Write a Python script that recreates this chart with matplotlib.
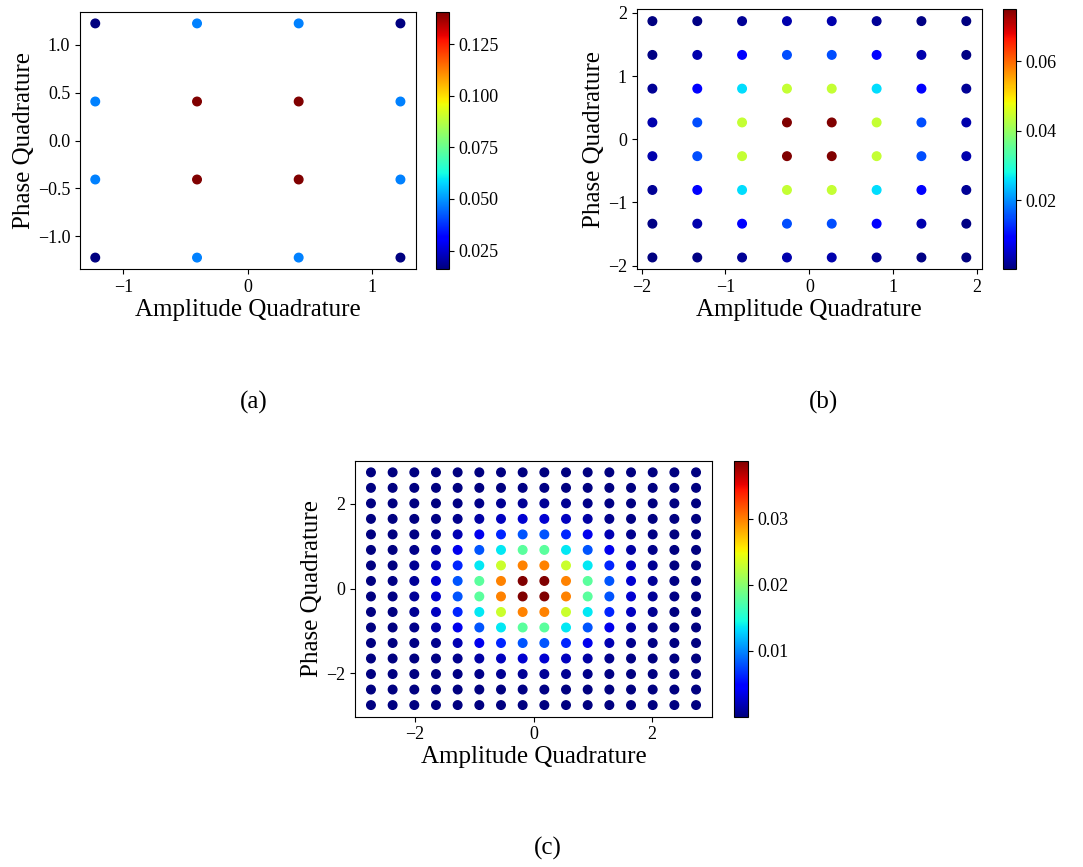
import numpy as np
import matplotlib
matplotlib.use('Agg')
from matplotlib import pyplot as plt

plt.rcParams['font.family'] = ['Liberation Serif', 'DejaVu Serif']
plt.rcParams['mathtext.fontset'] = 'stix'

# constellation levels (same on both quadratures)
levels_a = [-1.225, -0.408, 0.408, 1.225]
levels_b = [-1.871, -1.336, -0.802, -0.267, 0.267, 0.802, 1.336, 1.871]
levels_c = [-2.745, -2.379, -2.013, -1.647, -1.281, -0.915, -0.549, -0.183,
            0.183, 0.549, 0.915, 1.281, 1.647, 2.013, 2.379, 2.745]

# symbol probabilities, rows = phase level, cols = amplitude level
prob_a = [
    [0.0159, 0.0473, 0.0473, 0.0159],
    [0.0473, 0.1407, 0.1407, 0.0473],
    [0.0473, 0.1407, 0.1407, 0.0473],
    [0.0159, 0.0473, 0.0473, 0.0159],
]

prob_b = [
    [0.00013, 0.00063, 0.0018, 0.0031, 0.0031, 0.0018, 0.00063, 0.00013],
    [0.00063, 0.0031, 0.0089, 0.0152, 0.0152, 0.0089, 0.0031, 0.00063],
    [0.0018, 0.0089, 0.0258, 0.0440, 0.0440, 0.0258, 0.0089, 0.0018],
    [0.0031, 0.0152, 0.0440, 0.0749, 0.0749, 0.0440, 0.0152, 0.0031],
    [0.0031, 0.0152, 0.0440, 0.0749, 0.0749, 0.0440, 0.0152, 0.0031],
    [0.0018, 0.0089, 0.0258, 0.0440, 0.0440, 0.0258, 0.0089, 0.0018],
    [0.00063, 0.0031, 0.0089, 0.0152, 0.0152, 0.0089, 0.0031, 0.00063],
    [0.00013, 0.00063, 0.0018, 0.0031, 0.0031, 0.0018, 0.00063, 0.00013],
]

# one quadrant of the 256 points (centre outwards), the rest is mirrored
quad_c = [
    [0.03877, 0.02989, 0.01780, 0.00815, 0.00287, 0.00079, 0.00017, 0.00003],
    [0.02989, 0.02304, 0.01372, 0.00628, 0.00222, 0.00061, 0.00013, 0.00002],
    [0.01780, 0.01372, 0.00817, 0.00374, 0.00132, 0.00036, 0.00008, 0.00001],
    [0.00815, 0.00628, 0.00374, 0.00171, 0.00060, 0.00017, 0.00004, 0.00001],
    [0.00287, 0.00222, 0.00132, 0.00060, 0.00021, 0.00006, 0.00001, 0.0],
    [0.00079, 0.00061, 0.00036, 0.00017, 0.00006, 0.00002, 0.0, 0.0],
    [0.00017, 0.00013, 0.00008, 0.00004, 0.00001, 0.0, 0.0, 0.0],
    [0.00003, 0.00002, 0.00001, 0.00001, 0.0, 0.0, 0.0, 0.0],
]
q = np.array(quad_c)
top = np.hstack([q[:, ::-1], q])
prob_c = np.vstack([top[::-1], top])

cb_ticks_a = [0.025, 0.050, 0.075, 0.100, 0.125]
cb_ticks_b = [0.02, 0.04, 0.06]
cb_ticks_c = [0.01, 0.02, 0.03]

W, H = 1083, 867
fig = plt.figure(figsize=(W/100, H/100), dpi=100)

def box(x0, y0, x1, y1):
    return [x0/W, 1 - y1/H, (x1-x0)/W, (y1-y0)/H]

def panel(ax_box, cb_box, levels, prob, xt, yt, cbt, cbfmt, letter, lpos):
    ax = fig.add_axes(box(*ax_box))
    cax = fig.add_axes(box(*cb_box))
    X, Y = np.meshgrid(levels, levels)
    sc = ax.scatter(X.ravel(), Y.ravel(), c=np.asarray(prob).ravel(),
                    cmap='jet', s=38)
    ax.set_xticks(xt)
    ax.set_yticks(yt)
    ax.tick_params(labelsize=13)
    ax.set_xlabel('Amplitude Quadrature', fontsize=18, labelpad=2)
    ax.set_ylabel('Phase Quadrature', fontsize=18, labelpad=2)
    cb = fig.colorbar(sc, cax=cax, ticks=cbt, format=cbfmt)
    cb.ax.tick_params(labelsize=13)
    fig.text(lpos[0]/W, 1 - lpos[1]/H, letter, fontsize=18,
             ha='center', va='center')
    return ax

panel((80, 11.7, 415.7, 269.3), (436, 11.7, 448.7, 269.3), levels_a, prob_a,
      [-1, 0, 1], [-1.0, -0.5, 0.0, 0.5, 1.0], cb_ticks_a, '%.3f',
      '(a)', (254, 402))
panel((636.7, 9.3, 982, 269.3), (1003.3, 9.3, 1016, 269.3), levels_b, prob_b,
      [-2, -1, 0, 1, 2], [-2, -1, 0, 1, 2], cb_ticks_b, '%.2f',
      '(b)', (824, 402))
panel((354.7, 460.7, 712.3, 716.7), (734.3, 460.7, 748, 716.7), levels_c, prob_c,
      [-2, 0, 2], [-2, 0, 2], cb_ticks_c, '%.2f',
      '(c)', (548, 848))

plt.savefig('out.png', dpi=100)
